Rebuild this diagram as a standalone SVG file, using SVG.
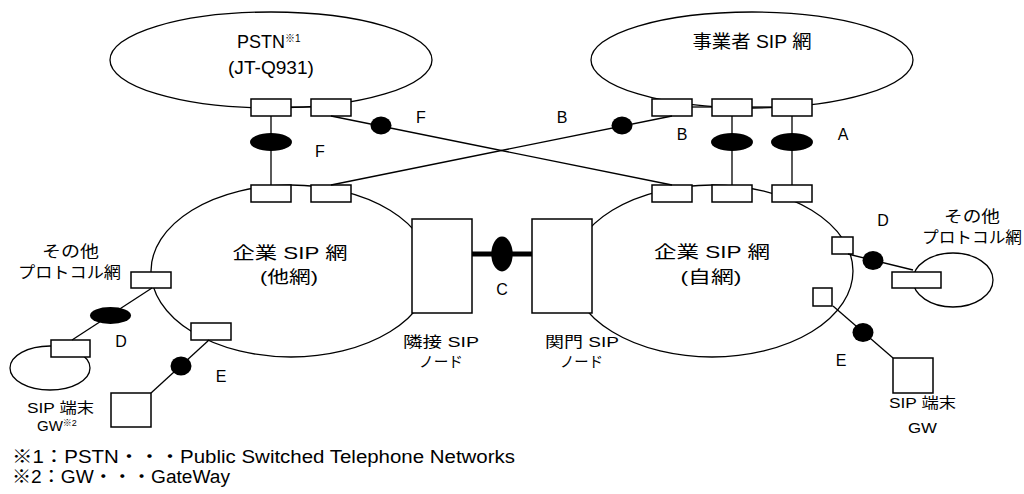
<svg xmlns="http://www.w3.org/2000/svg" width="1024" height="494" viewBox="0 0 1024 494">
<style>
  .net { fill: none; stroke: #000; stroke-width: 1.3; }
  .port { fill: #fff; stroke: #000; stroke-width: 1.5; }
  .box { fill: #fff; stroke: #000; stroke-width: 1.5; }
  .ln { stroke: #000; stroke-width: 1.3; fill: none; }
  .thick { stroke: #000; stroke-width: 5; }
  .blk { fill: #000; stroke: none; }
  text { font-family: "Liberation Sans", "Noto Sans CJK JP", sans-serif; fill: #000; }
  .t18 { font-size: 18px; }
  .t17 { font-size: 17px; }
  .t16 { font-size: 16px; }
  .t15 { font-size: 15px; }
  .lbl { font-size: 16px; text-anchor: middle; }
  .mid { text-anchor: middle; }
</style>
<rect x="0" y="0" width="1024" height="494" fill="#fff"/>

<g id="pstn">
  <ellipse class="net" cx="271" cy="60" rx="161" ry="48"/>
  <line class="ln" x1="291" y1="107" x2="311" y2="107"/>
  <rect class="port" x="251" y="99" width="40" height="17"/>
  <rect class="port" x="311" y="99" width="40" height="17"/>
  <text class="t18" x="237" y="48">PSTN<tspan font-size="10" dy="-6">※1</tspan></text>
  <text class="t18 mid" x="271" y="74" textLength="86" lengthAdjust="spacingAndGlyphs">(JT-Q931)</text>
</g>

<g id="carrier-sip">
  <ellipse class="net" cx="752" cy="60" rx="161" ry="48"/>
  <line class="ln" x1="692" y1="107" x2="712" y2="107"/>
  <line class="ln" x1="752" y1="107" x2="772" y2="107"/>
  <rect class="port" x="652" y="99" width="40" height="17"/>
  <rect class="port" x="712" y="99" width="40" height="17"/>
  <rect class="port" x="772" y="99" width="40" height="17"/>
  <text class="t18 mid" x="752" y="48" textLength="119" lengthAdjust="spacingAndGlyphs">事業者 SIP 網</text>
</g>

<g id="ent-other">
  <ellipse class="net" cx="291" cy="271" rx="140" ry="86"/>
  <rect class="port" x="251" y="185" width="40" height="17"/>
  <rect class="port" x="311" y="185" width="40" height="17"/>
  <rect class="port" x="131" y="272" width="40" height="16"/>
  <rect class="port" x="191" y="323" width="40" height="17"/>
  <text class="t17 mid" x="290" y="259" textLength="115" lengthAdjust="spacingAndGlyphs">企業 SIP 網</text>
  <text class="t17 mid" x="289" y="283" textLength="58" lengthAdjust="spacingAndGlyphs">(他網)</text>
</g>

<g id="ent-own">
  <ellipse class="net" cx="712" cy="271" rx="141" ry="86"/>
  <rect class="port" x="652" y="185" width="40" height="17"/>
  <rect class="port" x="712" y="185" width="40" height="17"/>
  <rect class="port" x="772" y="185" width="40" height="17"/>
  <rect class="port" x="832" y="237" width="21" height="17"/>
  <rect class="port" x="813" y="288" width="19" height="18"/>
  <text class="t17 mid" x="712" y="258" textLength="116" lengthAdjust="spacingAndGlyphs">企業 SIP 網</text>
  <text class="t17 mid" x="711" y="283" textLength="61" lengthAdjust="spacingAndGlyphs">(自網)</text>
</g>

<g id="adjacent-node">
  <rect class="box" x="412" y="219" width="60" height="94"/>
  <text class="t15" x="403" y="347" textLength="76" lengthAdjust="spacingAndGlyphs">隣接 SIP</text>
  <text class="t15" x="419" y="367" textLength="44" lengthAdjust="spacingAndGlyphs">ノード</text>
</g>

<g id="gateway-node">
  <rect class="box" x="532" y="219" width="60" height="94"/>
  <text class="t15" x="545" y="347" textLength="74" lengthAdjust="spacingAndGlyphs">関門 SIP</text>
  <text class="t15" x="560" y="367" textLength="43" lengthAdjust="spacingAndGlyphs">ノード</text>
</g>

<g id="other-proto-left">
  <ellipse class="net" cx="50" cy="368" rx="40" ry="22"/>
  <rect class="port" x="51" y="340" width="39" height="17"/>
  <text class="t16" x="42" y="257" textLength="57" lengthAdjust="spacingAndGlyphs">その他</text>
  <text class="t16" x="18" y="278" textLength="103" lengthAdjust="spacingAndGlyphs">プロトコル網</text>
</g>

<g id="terminal-left">
  <rect class="box" x="111" y="393" width="40" height="34"/>
  <text class="t15" x="27" y="413" textLength="67" lengthAdjust="spacingAndGlyphs">SIP 端末</text>
  <text class="t15" x="37" y="431">GW<tspan font-size="9" dy="-5">※2</tspan></text>
</g>

<g id="other-proto-right">
  <ellipse class="net" cx="953" cy="280" rx="40" ry="27"/>
  <rect class="port" x="892" y="272" width="49" height="16"/>
  <text class="t16" x="944" y="222" textLength="56" lengthAdjust="spacingAndGlyphs">その他</text>
  <text class="t16" x="922" y="243" textLength="100" lengthAdjust="spacingAndGlyphs">プロトコル網</text>
</g>

<g id="terminal-right">
  <rect class="box" x="893" y="358" width="40" height="35"/>
  <text class="t15" x="889" y="408" textLength="67" lengthAdjust="spacingAndGlyphs">SIP 端末</text>
  <text class="t15" x="908" y="433" textLength="29" lengthAdjust="spacingAndGlyphs">GW</text>
</g>

<g id="connectors">
  <line class="ln" x1="271" y1="116" x2="271" y2="185"/>
  <ellipse class="blk" cx="271" cy="142" rx="21" ry="9"/>
  <line class="ln" x1="331" y1="116" x2="672" y2="185"/>
  <ellipse class="blk" cx="381" cy="125.5" rx="10.5" ry="9"/>
  <line class="ln" x1="331" y1="185" x2="672" y2="116"/>
  <ellipse class="blk" cx="622" cy="125.5" rx="10.5" ry="9"/>
  <line class="ln" x1="732" y1="116" x2="732" y2="185"/>
  <ellipse class="blk" cx="732" cy="142" rx="21" ry="9"/>
  <line class="ln" x1="792" y1="116" x2="792" y2="185"/>
  <ellipse class="blk" cx="792" cy="142" rx="21" ry="9"/>
  <line class="thick" x1="472" y1="254" x2="532" y2="254"/>
  <ellipse class="blk" cx="502" cy="254" rx="10.7" ry="17.5"/>
  <line class="ln" x1="152" y1="288" x2="72" y2="340"/>
  <ellipse class="blk" cx="110.5" cy="315.5" rx="20.5" ry="8.5"/>
  <line class="ln" x1="209" y1="340" x2="151" y2="393"/>
  <ellipse class="blk" cx="181" cy="366" rx="10.5" ry="9.5"/>
  <line class="ln" x1="848" y1="254" x2="913" y2="270"/>
  <ellipse class="blk" cx="873" cy="260.5" rx="10.5" ry="9.5"/>
  <line class="ln" x1="833" y1="306" x2="893" y2="358"/>
  <ellipse class="blk" cx="863" cy="332.5" rx="10.5" ry="9.5"/>
  <text class="lbl" x="421" y="123">F</text>
  <text class="lbl" x="320" y="157">F</text>
  <text class="lbl" x="562" y="123">B</text>
  <text class="lbl" x="682" y="140">B</text>
  <text class="lbl" x="843" y="140">A</text>
  <text class="lbl" x="502" y="295">C</text>
  <text class="lbl" x="121" y="347">D</text>
  <text class="lbl" x="221" y="382">E</text>
  <text class="lbl" x="883" y="226">D</text>
  <text class="lbl" x="841" y="366">E</text>
</g>

<g id="footnotes">
  <text class="t18" x="12" y="463" textLength="503" lengthAdjust="spacingAndGlyphs">※1：PSTN・・・Public Switched Telephone Networks</text>
  <text class="t18" x="12" y="483" textLength="218" lengthAdjust="spacingAndGlyphs">※2：GW・・・GateWay</text>
</g>
</svg>
